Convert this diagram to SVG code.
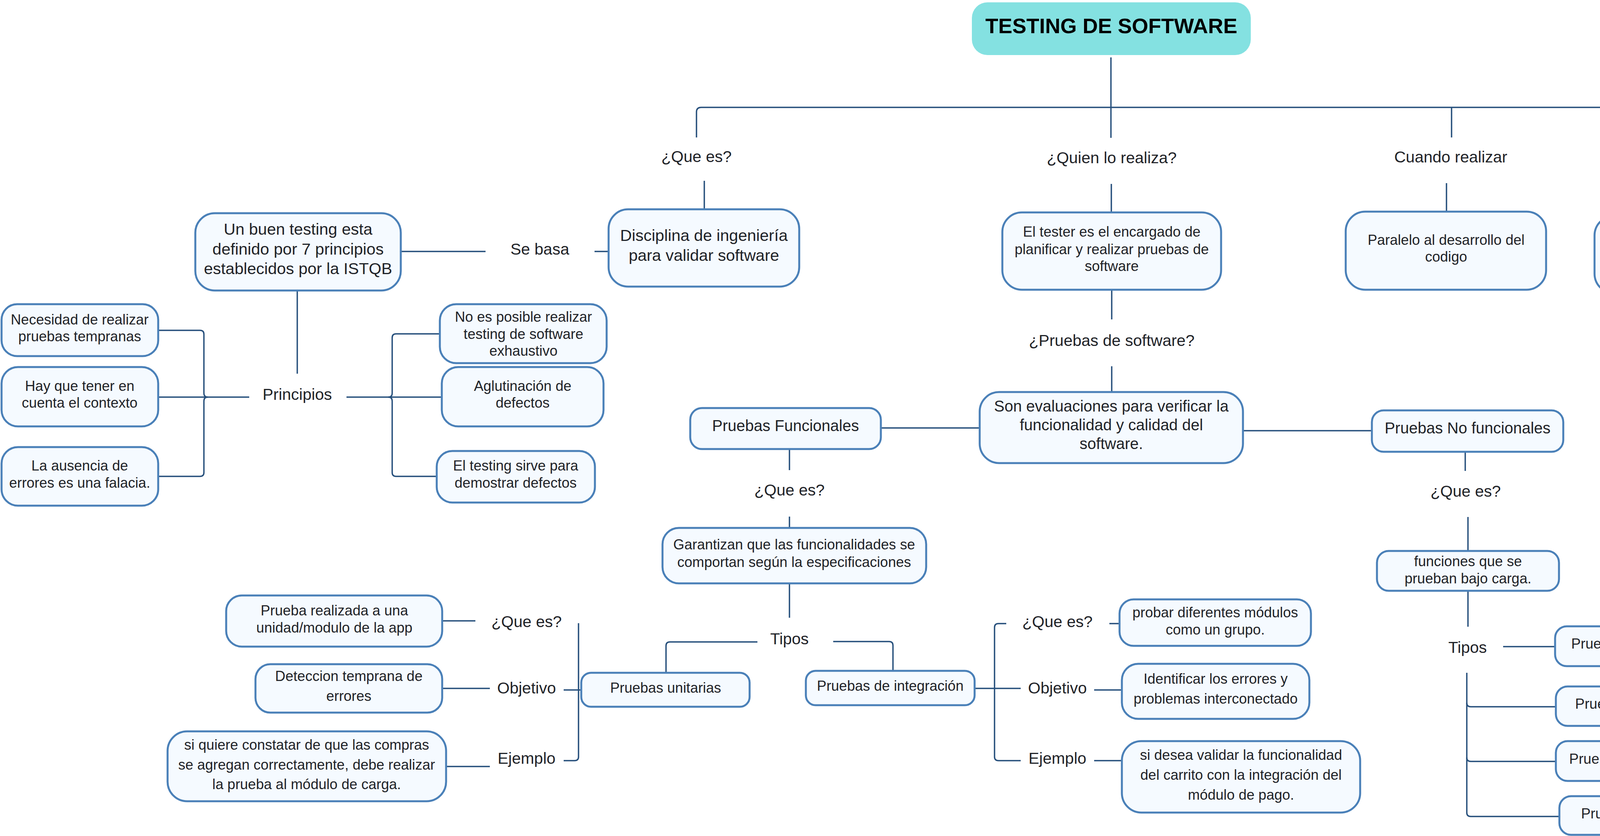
<svg xmlns="http://www.w3.org/2000/svg" width="5063" height="2141" viewBox="0 0 5063 2141">
<style>
.bg{fill:#ffffff}
.box{fill:#f5faff;stroke:#4a80b8;stroke-width:5}
.title{fill:#84e1e1}
.con{fill:none;stroke:#27507c;stroke-width:3.5}
.t{font-family:"Liberation Sans",Arial,sans-serif;fill:#1f2328;text-anchor:middle}
.lb{font-size:41px}
.md{font-size:40px}
.mb{font-size:41.5px}
.sm{font-size:36.5px}
.tt{font-size:54px;font-weight:bold;fill:#000000}
</style>
<rect class="bg" x="0" y="0" width="5063" height="2141"/>
<g id="connectors">
<path class="con" d="M2844,147 V353"/>
<path class="con" d="M1783,352 V287 Q1783,275 1795,275 H4352 Q4364,275 4364,287 V360"/>
<path class="con" d="M3716,275 V352"/>
<path class="con" d="M1803,463 V536"/>
<path class="con" d="M2845,471 V544"/>
<path class="con" d="M3703,469 V542"/>
<path class="con" d="M4364,480 V553"/>
<path class="con" d="M1027,644 H1243"/>
<path class="con" d="M1522,644 H1558"/>
<path class="con" d="M761,746 V957"/>
<path class="con" d="M405,846 H512 Q522,846 522,856 V1007 Q522,1017 532,1017"/>
<path class="con" d="M405,1220 H512 Q522,1220 522,1210 V1027 Q522,1017 532,1017"/>
<path class="con" d="M405,1017 H638"/>
<path class="con" d="M1126,855 H1014 Q1004,855 1004,865 V1007 Q1004,1017 994,1017"/>
<path class="con" d="M1118,1220 H1014 Q1004,1220 1004,1210 V1027 Q1004,1017 994,1017"/>
<path class="con" d="M887,1017 H1131"/>
<path class="con" d="M2846,742 V818"/>
<path class="con" d="M2846,938 V1004"/>
<path class="con" d="M2255,1096 H2508"/>
<path class="con" d="M3182,1103 H3512"/>
<path class="con" d="M2021,1150 V1204"/>
<path class="con" d="M2021,1323 V1352"/>
<path class="con" d="M2021,1494 V1582"/>
<path class="con" d="M1939,1644 H1715 Q1705,1644 1705,1654 V1723"/>
<path class="con" d="M2133,1643 H2276 Q2286,1643 2286,1653 V1718"/>
<path class="con" d="M1481,1596 V1938 Q1481,1948 1471,1948 H1443"/>
<path class="con" d="M1443,1767 H1488"/>
<path class="con" d="M1132,1590 H1217"/>
<path class="con" d="M1132,1763 H1254"/>
<path class="con" d="M1142,1963 H1254"/>
<path class="con" d="M2495,1763 H2613"/>
<path class="con" d="M2576,1597 H2556 Q2546,1597 2546,1607 V1938 Q2546,1948 2556,1948 H2613"/>
<path class="con" d="M2840,1597 H2866"/>
<path class="con" d="M2801,1767 H2872"/>
<path class="con" d="M2801,1948 H2872"/>
<path class="con" d="M3751,1157 V1206"/>
<path class="con" d="M3758,1324 V1411"/>
<path class="con" d="M3758,1513 V1605"/>
<path class="con" d="M3848,1656 H3981"/>
<path class="con" d="M4451,1656 H4547"/>
<path class="con" d="M3755,1723 V2081 Q3755,2091 3765,2091 H3992"/>
<path class="con" d="M3755,1800 Q3755,1810 3765,1810 H3983"/>
<path class="con" d="M3755,1940 Q3755,1950 3765,1950 H3983"/>
<path class="con" d="M4678,1605 V1532 Q4678,1522 4668,1522 H4438 Q4428,1522 4428,1512 V1437"/>
<path class="con" d="M4678,1532 Q4678,1522 4688,1522 H4884 Q4894,1522 4894,1512 V1441"/>
</g>
<g id="title">
<rect class="title" x="2488" y="6" width="714" height="135" rx="40"/>
<text class="t tt" x="2845" y="85">TESTING DE SOFTWARE</text>
</g>
<g id="lbl-quees1"><text class="t lb" x="1783" y="415">¿Que es?</text></g>
<g id="lbl-quien"><text class="t lb" x="2846" y="418">¿Quien lo realiza?</text></g>
<g id="lbl-cuando"><text class="t lb" x="3714" y="416">Cuando realizar</text></g>
<g id="lbl-objetivo1"><text class="t lb" x="4364" y="428">Objetivo</text></g>
<g id="lbl-sebasa"><text class="t lb" x="1382" y="652">Se basa</text></g>
<g id="lbl-principios"><text class="t lb" x="761" y="1024">Principios</text></g>
<g id="lbl-pruebas"><text class="t lb" x="2846" y="886">¿Pruebas de software?</text></g>
<g id="lbl-quees2"><text class="t lb" x="2021" y="1269">¿Que es?</text></g>
<g id="lbl-quees3"><text class="t lb" x="3752" y="1272">¿Que es?</text></g>
<g id="lbl-tipos1"><text class="t lb" x="2021" y="1650">Tipos</text></g>
<g id="lbl-quees4"><text class="t lb" x="1348" y="1606">¿Que es?</text></g>
<g id="lbl-objetivo2"><text class="t lb" x="1348" y="1776">Objetivo</text></g>
<g id="lbl-ejemplo1"><text class="t lb" x="1348" y="1956">Ejemplo</text></g>
<g id="lbl-quees5"><text class="t lb" x="2707" y="1606">¿Que es?</text></g>
<g id="lbl-objetivo3"><text class="t lb" x="2707" y="1776">Objetivo</text></g>
<g id="lbl-ejemplo2"><text class="t lb" x="2707" y="1956">Ejemplo</text></g>
<g id="lbl-tipos2"><text class="t lb" x="3757" y="1672">Tipos</text></g>
<g id="lbl-sedivide"><text class="t lb" x="4677" y="1672">Se divide en</text></g>
<g id="n-unbuen">
<rect class="box" x="500" y="546" width="526" height="198" rx="50"/>
<text class="t mb" x="763" y="601">Un buen testing esta</text>
<text class="t mb" x="763" y="652">definido por 7 principios</text>
<text class="t mb" x="763" y="702">establecidos por la ISTQB</text>
</g>
<g id="n-disciplina">
<rect class="box" x="1558" y="536" width="488" height="198" rx="50"/>
<text class="t mb" x="1802" y="617">Disciplina de ingeniería</text>
<text class="t mb" x="1802" y="668">para validar software</text>
</g>
<g id="n-tester">
<rect class="box" x="2566" y="544" width="560" height="198" rx="50"/>
<text class="t sm" x="2846" y="606">El tester es el encargado de</text>
<text class="t sm" x="2846" y="651">planificar y realizar pruebas de</text>
<text class="t sm" x="2846" y="694">software</text>
</g>
<g id="n-paralelo">
<rect class="box" x="3445" y="542" width="513" height="200" rx="50"/>
<text class="t sm" x="3702" y="627">Paralelo al desarrollo del</text>
<text class="t sm" x="3702" y="670">codigo</text>
</g>
<g id="n-probar">
<rect class="box" x="4082" y="553" width="561" height="198" rx="50"/>
<text class="t sm" x="4362" y="636">Probar si el software cumple</text>
<text class="t sm" x="4362" y="680">con los requisitos del cliente</text>
</g>
<g id="n-necesidad">
<rect class="box" x="4" y="779" width="401" height="133" rx="40"/>
<text class="t sm" x="204" y="831">Necesidad de realizar</text>
<text class="t sm" x="204" y="874">pruebas tempranas</text>
</g>
<g id="n-hayque">
<rect class="box" x="4" y="940" width="401" height="152" rx="42"/>
<text class="t sm" x="204" y="1001">Hay que tener en</text>
<text class="t sm" x="204" y="1044">cuenta el contexto</text>
</g>
<g id="n-ausencia">
<rect class="box" x="4" y="1145" width="401" height="150" rx="42"/>
<text class="t sm" x="204" y="1205">La ausencia de</text>
<text class="t sm" x="204" y="1249">errores es una falacia.</text>
</g>
<g id="n-noes">
<rect class="box" x="1126" y="779" width="427" height="151" rx="42"/>
<text class="t sm" x="1340" y="824">No es posible realizar</text>
<text class="t sm" x="1340" y="868">testing de software</text>
<text class="t sm" x="1340" y="911">exhaustivo</text>
</g>
<g id="n-aglutinacion">
<rect class="box" x="1131" y="940" width="414" height="152" rx="42"/>
<text class="t sm" x="1338" y="1001">Aglutinación de</text>
<text class="t sm" x="1338" y="1044">defectos</text>
</g>
<g id="n-eltesting">
<rect class="box" x="1118" y="1155" width="405" height="132" rx="40"/>
<text class="t sm" x="1320" y="1205">El testing sirve para</text>
<text class="t sm" x="1320" y="1249">demostrar defectos</text>
</g>
<g id="n-funcionales">
<rect class="box" x="1767" y="1045" width="488" height="105" rx="30"/>
<text class="t md" x="2011" y="1104">Pruebas Funcionales</text>
</g>
<g id="n-son">
<rect class="box" x="2508" y="1004" width="674" height="182" rx="50"/>
<text class="t md" x="2845" y="1054">Son evaluaciones para verificar la</text>
<text class="t md" x="2845" y="1102">funcionalidad y calidad del</text>
<text class="t md" x="2845" y="1150">software.</text>
</g>
<g id="n-nofuncionales">
<rect class="box" x="3512" y="1051" width="490" height="106" rx="30"/>
<text class="t md" x="3757" y="1110">Pruebas No funcionales</text>
</g>
<g id="n-garantizan">
<rect class="box" x="1696" y="1352" width="675" height="142" rx="42"/>
<text class="t sm" x="2033" y="1407">Garantizan que las funcionalidades se</text>
<text class="t sm" x="2033" y="1452">comportan según la especificaciones</text>
</g>
<g id="n-prueba-realizada">
<rect class="box" x="579" y="1525" width="553" height="131" rx="40"/>
<text class="t sm" x="856" y="1576">Prueba realizada a una</text>
<text class="t sm" x="856" y="1620">unidad/modulo de la app</text>
</g>
<g id="n-deteccion">
<rect class="box" x="654" y="1701" width="478" height="124" rx="38"/>
<text class="t sm" x="893" y="1744">Deteccion temprana de</text>
<text class="t sm" x="893" y="1795">errores</text>
</g>
<g id="n-siquiere">
<rect class="box" x="429" y="1873" width="713" height="179" rx="50"/>
<text class="t sm" x="785" y="1920">si quiere constatar de que las compras</text>
<text class="t sm" x="785" y="1971">se agregan correctamente, debe realizar</text>
<text class="t sm" x="785" y="2021">la prueba al módulo de carga.</text>
</g>
<g id="n-unitarias">
<rect class="box" x="1488" y="1723" width="431" height="87" rx="25"/>
<text class="t sm" x="1704" y="1774">Pruebas unitarias</text>
</g>
<g id="n-integracion">
<rect class="box" x="2063" y="1718" width="432" height="88" rx="25"/>
<text class="t sm" x="2279" y="1769">Pruebas de integración</text>
</g>
<g id="n-probardif">
<rect class="box" x="2866" y="1535" width="490" height="119" rx="36"/>
<text class="t sm" x="3111" y="1581">probar diferentes módulos</text>
<text class="t sm" x="3111" y="1625">como un grupo.</text>
</g>
<g id="n-identificar">
<rect class="box" x="2872" y="1700" width="480" height="141" rx="42"/>
<text class="t sm" x="3112" y="1751">Identificar los errores y</text>
<text class="t sm" x="3112" y="1802">problemas interconectado</text>
</g>
<g id="n-sidesea">
<rect class="box" x="2872" y="1898" width="610" height="183" rx="50"/>
<text class="t sm" x="3177" y="1946">si desea validar la funcionalidad</text>
<text class="t sm" x="3177" y="1997">del carrito con la integración del</text>
<text class="t sm" x="3177" y="2048">módulo de pago.</text>
</g>
<g id="n-funciones">
<rect class="box" x="3525" y="1411" width="466" height="102" rx="30"/>
<text class="t sm" x="3758" y="1450">funciones que se</text>
<text class="t sm" x="3758" y="1494">prueban bajo carga.</text>
</g>
<g id="n-rendimiento">
<rect class="box" x="3981" y="1604" width="470" height="102" rx="30"/>
<text class="t sm" x="4216" y="1661">Pruebas de rendimiento</text>
</g>
<g id="n-instalacion">
<rect class="box" x="3983" y="1758" width="468" height="101" rx="30"/>
<text class="t sm" x="4217" y="1815">Pruebas de instalacion</text>
</g>
<g id="n-confiabilidad">
<rect class="box" x="3983" y="1898" width="468" height="102" rx="30"/>
<text class="t sm" x="4217" y="1956">Pruebas de confiabilidad</text>
</g>
<g id="n-seguridad">
<rect class="box" x="3992" y="2039" width="469" height="99" rx="30"/>
<text class="t sm" x="4226" y="2096">Pruebas de seguridad</text>
</g>
<g id="n-carga">
<rect class="box" x="4265" y="1352" width="328" height="85" rx="25"/>
<text class="t sm" x="4429" y="1400">Pruebas de carga</text>
</g>
<g id="n-esfuerzo">
<rect class="box" x="4725" y="1344" width="335" height="97" rx="28"/>
<text class="t sm" x="4893" y="1384">Pruebas de</text>
<text class="t sm" x="4893" y="1425">esfuerzo</text>
</g>
</svg>
